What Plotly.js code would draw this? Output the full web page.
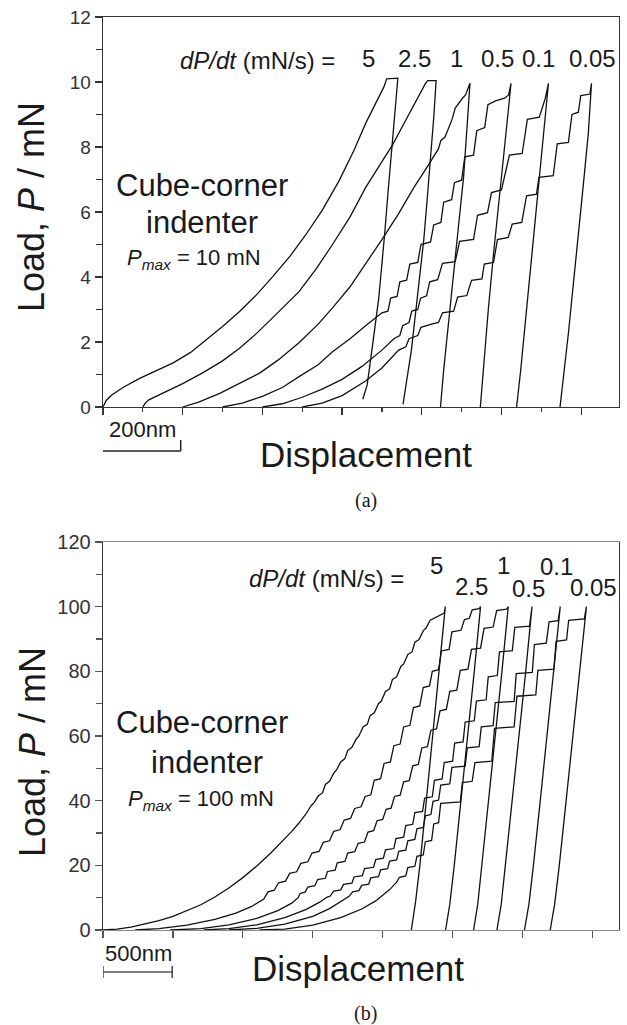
<!DOCTYPE html>
<html>
<head>
<meta charset="utf-8">
<script src="https://cdn.plot.ly/plotly-3.0.1.min.js"></script>
<style>html,body{margin:0;padding:0;background:#fff;}#chart{width:627px;height:1025px;}</style>
</head>
<body>
<div id="chart"></div>
<script>
// ---------- Panel (a): Pmax = 10 mN (displacement nm, load mN) ----------
const rateLabels = ["5", "2.5", "1", "0.5", "0.1", "0.05"];

const a5_x = [0,8,22,50,92,130,176,220,259,300,342,385,426,470,509,550,592,630,660,690,705,712,740,735,726,716,707,692,676,663,652];
const a5_y = [0,0.2,0.37,0.6,0.88,1.1,1.36,1.68,2.06,2.48,2.93,3.45,4.01,4.65,5.3,6.05,6.95,7.9,8.75,9.5,9.85,10.1,10.12,9.4,8.0,6.7,5.34,3.34,1.86,0.68,0.24];

const a25_x = [100,106,115,150,200,250,300,342,384,426,460,492,535,576,620,659,700,726,750,776,795,809,815,836,830,821,813,805,788,774,762,753];
const a25_y = [0,0.12,0.22,0.42,0.72,1.05,1.42,1.8,2.25,2.75,3.15,3.55,4.25,5.0,5.85,6.75,7.55,8.05,8.6,9.2,9.65,9.95,10.04,10.04,8.9,7.4,6.3,5.14,3.29,1.75,0.8,0.08];

const a1_x = [200,240,293,340,394,440,494,540,576,620,659,700,742,780,817,842,848,858,868,876,884,892,902,910,916,921,913,905,895,884,867,855,847];
const a1_y = [0,0.15,0.42,0.72,1.05,1.45,2.0,2.55,3.05,3.7,4.4,5.15,5.95,6.75,7.45,7.95,8.2,8.3,8.6,8.85,9.2,9.35,9.5,9.6,9.8,9.96,8.5,7.08,5.9,4.62,2.68,1.14,0];

const a05_x = [300,350,400,450,494,540,576,620,659,690,700,715,722,738,745,762,770,790,798,822,830,848,855,875,882,900,908,930,938,958,966,985,1008,1018,1024,1017,1010,995,980,967,957,947];
const a05_y = [0,0.12,0.33,0.6,0.95,1.3,1.7,2.1,2.5,2.8,2.9,2.95,3.35,3.4,3.85,3.9,4.4,4.45,5.0,5.08,5.6,5.68,6.3,6.38,6.9,6.98,7.7,7.75,8.5,8.6,9.3,9.42,9.5,9.6,9.96,9.1,8.3,6.5,4.7,3.0,1.6,0];

const a01_x = [400,450,500,550,600,650,700,730,745,752,768,775,790,797,812,820,840,852,884,895,930,940,965,975,1000,1020,1052,1065,1095,1110,1118,1112,1105,1090,1075,1060,1048,1038];
const a01_y = [0,0.1,0.3,0.55,0.85,1.25,1.75,2.1,2.2,2.5,2.6,2.95,3.0,3.35,3.42,3.85,3.92,4.42,4.47,5.1,5.16,5.9,5.98,6.6,6.68,7.75,7.8,8.85,8.92,9.5,9.96,9.2,8.2,6.2,4.3,2.5,1.1,0];

const a005_x = [500,550,600,659,700,742,760,768,790,798,825,842,852,880,890,913,925,951,957,980,990,1017,1027,1051,1063,1088,1094,1130,1140,1168,1177,1193,1199,1222,1226,1218,1205,1188,1168,1147];
const a005_y = [0,0.12,0.35,0.8,1.2,1.75,1.85,2.1,2.2,2.45,2.55,2.6,2.9,2.95,3.38,3.43,3.9,3.94,4.4,4.45,5.15,5.22,5.63,5.68,6.5,6.55,7.07,7.12,8.1,8.14,9.0,9.07,9.58,9.63,9.96,8.42,6.78,4.73,2.27,0];

// ---------- Panel (b): Pmax = 100 mN ----------
const b5_x = [0,100,200,300,400,500,600,700,800,900,1000,1100,1200,1300,1350,1400,1450,1490,1510,1540,1570,1590,1620,1650,1670,1700,1730,1750,1780,1810,1830,1860,1890,1910,1940,1970,1990,2020,2050,2070,2100,2130,2150,2180,2210,2230,2260,2290,2310,2340,2370,2390,2420,2440,2448,2404,2358,2312,2266,2236,2205];
const b5_y = [0,0.3,0.9,1.8,2.9,4.2,5.9,7.8,10.2,13.0,16.2,19.8,23.8,28.2,30.5,33.0,35.8,38.5,39.4,41.5,42.4,45.0,46.0,48.5,49.5,52.0,53.0,55.5,56.5,59.0,60.0,62.8,63.6,66.3,67.2,70.0,70.8,73.8,74.6,77.5,78.3,81.5,82.3,85.2,86.0,89.0,89.8,92.5,93.4,95.8,96.4,97.0,97.5,98.0,100,80,60,40,20,9,0];

const b25_x = [230,400,600,800,950,1060,1150,1180,1225,1255,1305,1335,1385,1415,1465,1495,1545,1575,1620,1650,1695,1725,1770,1800,1845,1875,1915,1940,1985,2010,2055,2080,2125,2150,2195,2220,2265,2290,2335,2355,2400,2420,2475,2495,2560,2585,2620,2640,2690,2700,2655,2608,2560,2512,2480,2450];
const b25_y = [0,0.4,1.5,3.3,5.2,7.2,9.6,11.8,12.3,14.6,15.1,17.5,18,20.6,21.1,23.8,24.3,27.1,27.6,30.5,31,34,34.5,37.6,38.1,41.3,41.8,46.3,46.8,51.5,52,57,57.5,62.8,63.3,68.8,69.3,75,75.5,80,80.5,86.3,86.8,92.2,92.7,96,96.4,99,99.4,100,80,60,40,20,8,0];

const b1_x = [480,700,900,1100,1250,1350,1395,1410,1445,1465,1515,1535,1590,1605,1660,1675,1730,1750,1800,1825,1870,1895,1935,1960,2000,2025,2060,2085,2125,2150,2190,2215,2255,2280,2320,2345,2385,2410,2455,2480,2530,2555,2610,2635,2700,2725,2790,2815,2885,2898,2853,2806,2759,2712,2680,2650];
const b1_y = [0,0.4,1.6,3.6,6,8.3,10,11.3,11.7,13.3,13.7,15.6,16,18.1,18.5,20.8,21.2,23.8,24.2,26.8,27.2,30.3,30.7,33.8,34.2,37.3,37.7,41.3,41.7,45.8,46.2,50.8,51.2,56.3,56.7,61.8,62.2,67.8,68.2,73.8,74.2,80.3,80.7,86.8,87.2,93.3,93.7,98.8,99.2,100,80,60,40,20,8,0];

const b05_x = [720,900,1100,1300,1450,1550,1590,1600,1625,1650,1700,1720,1780,1795,1855,1870,1935,1950,2005,2020,2080,2095,2150,2165,2215,2230,2285,2300,2355,2370,2425,2440,2500,2515,2575,2590,2655,2670,2740,2755,2820,2835,2927,2945,3050,3068,3023,2975,2927,2880,2848,2817];
const b05_y = [0,0.4,1.6,3.8,6.3,8.6,9.8,10.1,10.5,12.0,12.4,14.1,14.5,16.4,16.8,19.0,19.4,21.8,22.2,24.8,25.2,28.3,28.7,32.3,32.7,36.3,36.7,40.8,41.2,46.3,46.7,51.8,52.2,57.8,58.2,64.3,64.7,70.8,71.2,78.3,78.7,86.0,86.4,93.6,94.0,100,80,60,40,20,8,0];

const b01_x = [900,1100,1300,1500,1620,1700,1730,1740,1760,1785,1830,1850,1900,1915,1970,1985,2035,2050,2100,2115,2165,2180,2230,2245,2290,2305,2345,2360,2400,2415,2480,2495,2590,2605,2690,2705,2790,2805,2940,2955,3070,3085,3170,3190,3255,3270,3224,3175,3127,3078,3046,3014];
const b01_y = [0,0.5,1.8,4.2,6.6,8.8,9.8,10.0,10.4,11.8,12.2,13.8,14.2,16.1,16.5,18.6,19.0,21.3,21.7,24.3,24.7,27.6,28.0,31.3,31.7,35.3,35.7,39.8,40.2,44.8,45.2,50.3,50.7,56.3,56.7,62.8,63.2,70.3,70.7,79.3,79.7,88.3,88.7,95.3,95.7,100,80,60,40,20,8,0];

const b005_x = [1120,1300,1500,1700,1850,1950,2050,2100,2120,2165,2180,2230,2245,2290,2305,2350,2365,2400,2415,2555,2570,2640,2660,2780,2800,2940,2960,3095,3110,3225,3240,3315,3330,3442,3457,3410,3361,3312,3263,3230,3198];
const b005_y = [0,0.3,1.5,3.8,6.5,9,12.5,14.8,16.3,16.7,19.3,19.7,22.8,23.2,27.3,27.7,32.8,33.2,39.2,39.6,45.6,46.0,51.8,52.2,62.4,62.8,72.3,72.7,80.3,80.7,89.3,89.7,95.8,96.2,100,80,60,40,20,8,0];

// ---------- build ----------
const W = 627, H = 1025;
const FONT = "Liberation Sans, Arial, Helvetica, sans-serif";
const INK = "#111";
const lineStyle = {color: INK, width: 1.3};

const seriesA = [[a5_x,a5_y],[a25_x,a25_y],[a1_x,a1_y],[a05_x,a05_y],[a01_x,a01_y],[a005_x,a005_y]];
const seriesB = [[b5_x,b5_y],[b25_x,b25_y],[b1_x,b1_y],[b05_x,b05_y],[b01_x,b01_y],[b005_x,b005_y]];

const traces = [];
seriesA.forEach((s,i)=>traces.push({x:s[0],y:s[1],type:"scatter",mode:"lines",line:lineStyle,xaxis:"x",yaxis:"y",name:rateLabels[i],hoverinfo:"skip"}));
seriesB.forEach((s,i)=>traces.push({x:s[0],y:s[1],type:"scatter",mode:"lines",line:lineStyle,xaxis:"x2",yaxis:"y2",name:rateLabels[i],hoverinfo:"skip"}));

function px(x){return x/W;}
function py(y){return 1-y/H;}
function ann(text,x,y,size,extra){
  return Object.assign({text:text,x:px(x),y:py(y),xref:"paper",yref:"paper",showarrow:false,
    font:{family:FONT,size:size,color:"#1a1a1a"},xanchor:"center",yanchor:"middle"},extra||{});
}

const annotations = [
  ann("Load, <i>P</i> / mN",32,207,36,{textangle:-90}),
  ann("Load, <i>P</i> / mN",32,752,36,{textangle:-90}),
  ann("Displacement",366,455,35),
  ann("Displacement",358,968,35),
  ann("200nm",142,430,22),
  ann("500nm",138,953,22),
  ann("(a)",366,500,20,{font:{family:"Liberation Serif, Times New Roman, serif",size:20,color:"#1a1a1a"}}),
  ann("(b)",365,1013,20,{font:{family:"Liberation Serif, Times New Roman, serif",size:20,color:"#1a1a1a"}}),
  ann("<i>dP/dt</i> (mN/s) =",337,60,24,{xanchor:"right"}),
  ann("<i>dP/dt</i> (mN/s) =",406,578,24,{xanchor:"right"}),
  ann("Cube-corner",202,186,31),
  ann("indenter",202,223,31),
  ann("<i>P</i><sub><i>max</i></sub> = 10 mN",194,259,22),
  ann("Cube-corner",202,722,31),
  ann("indenter",207,762,31),
  ann("<i>P</i><sub><i>max</i></sub> = 100 mN",201,800,22)
];
const posA = [[368,58],[414,58],[457,58],[497,58],[538,58],[592,58]];
const posB = [[436,565],[471,586],[503,565],[528,588],[556,566],[593,587]];
rateLabels.forEach((t,i)=>{
  annotations.push(ann(t,posA[i][0],posA[i][1],24));
  annotations.push(ann(t,posB[i][0],posB[i][1],24));
});

const shapes = [
  // 200 nm bracket (panel a)
  {type:"line",xref:"x",yref:"paper",x0:-8,x1:-8,y0:py(440),y1:py(451),line:{color:"#222",width:1.5}},
  {type:"line",xref:"x",yref:"paper",x0:-8,x1:195,y0:py(451),y1:py(451),line:{color:"#222",width:1.5}},
  {type:"line",xref:"x",yref:"paper",x0:195,x1:195,y0:py(440),y1:py(451),line:{color:"#222",width:1.5}},
  // 500 nm bar (panel b)
  {type:"line",xref:"x2",yref:"paper",x0:0,x1:495,y0:py(972),y1:py(972),line:{color:"#555",width:1.5}},
  {type:"line",xref:"x2",yref:"paper",x0:0,x1:0,y0:py(966),y1:py(978),line:{color:"#444",width:1.5}},
  {type:"line",xref:"x2",yref:"paper",x0:495,x1:495,y0:py(966),y1:py(978),line:{color:"#444",width:1.5}}
];

const xd = [103/W, 619/W];
const common = {showgrid:false,zeroline:false,showline:true,mirror:true,ticks:"outside",automargin:false,fixedrange:true};
const layout = {
  width:W,height:H,margin:{l:0,r:0,t:0,b:0},paper_bgcolor:"#fff",plot_bgcolor:"#fff",showlegend:false,
  xaxis:Object.assign({},common,{domain:xd,anchor:"y",range:[0,1295],tick0:0,dtick:200,ticklen:7,tickwidth:1.2,
    tickcolor:"#333",linecolor:"#333",linewidth:1.3,showticklabels:false,
    minor:{dtick:100,ticklen:4,ticks:"outside",tickcolor:"#333",tickwidth:1.2}}),
  yaxis:Object.assign({},common,{domain:[py(407),py(17)],anchor:"x",range:[0,12],tick0:0,dtick:2,ticklen:7,tickwidth:1.2,
    tickcolor:"#333",linecolor:"#333",linewidth:1.3,tickfont:{family:FONT,size:19,color:"#333"},
    minor:{dtick:1,ticklen:6,ticks:"outside",tickcolor:"#333",tickwidth:1.2}}),
  xaxis2:Object.assign({},common,{domain:xd,anchor:"y2",range:[0,3690],tick0:0,dtick:500,ticklen:7,tickwidth:1.2,
    tickcolor:"#555",linecolor:"#8a8a8a",linewidth:1.4,showticklabels:false}),
  yaxis2:Object.assign({},common,{domain:[py(930),py(542)],anchor:"x2",range:[0,120],tick0:0,dtick:20,ticklen:7,tickwidth:1.2,
    tickcolor:"#555",linecolor:"#333",linewidth:1.3,tickfont:{family:FONT,size:20,color:"#333"},
    minor:{dtick:10,ticklen:6,ticks:"outside",tickcolor:"#555",tickwidth:1.2}}),
  annotations:annotations,
  shapes:shapes
};
Plotly.newPlot("chart",traces,layout,{staticPlot:true,displayModeBar:false});
</script>
</body>
</html>
